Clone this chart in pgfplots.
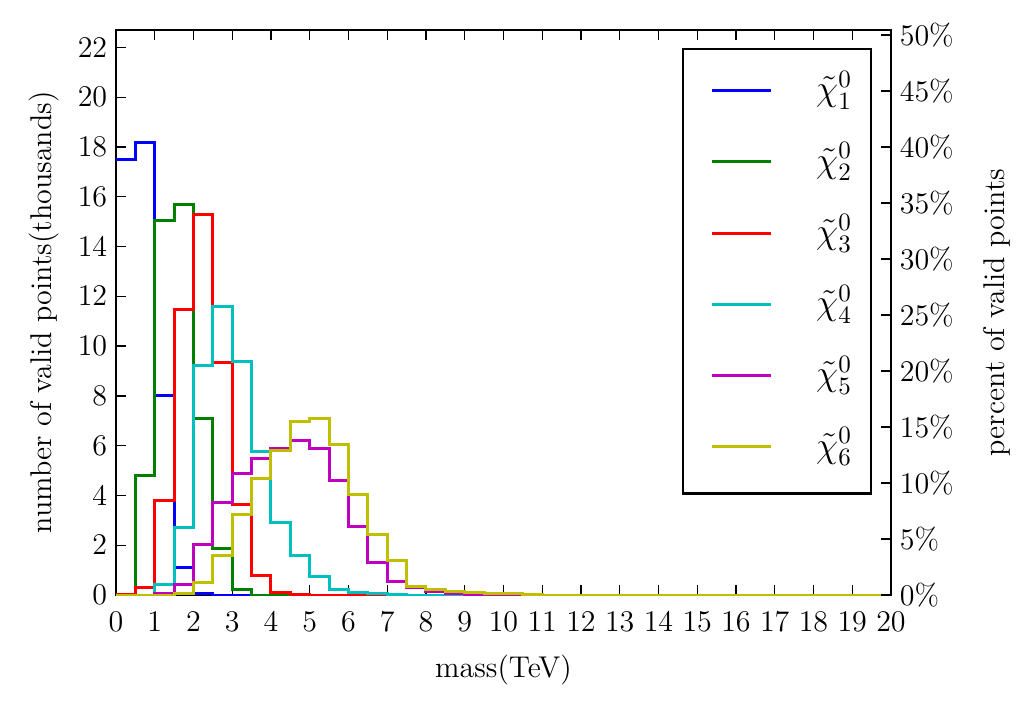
\documentclass[border=0pt]{standalone}
\usepackage{pgfplots}
\pgfplotsset{compat=1.18}
\definecolor{mb}{rgb}{0,0,1}
\definecolor{mg}{rgb}{0,0.5,0}
\definecolor{mr}{rgb}{1,0,0}
\definecolor{mc}{rgb}{0,0.75,0.75}
\definecolor{mm}{rgb}{0.75,0,0.75}
\definecolor{my}{rgb}{0.75,0.75,0}
\begin{document}
\begin{tikzpicture}
\begin{axis}[
  name=main,
  scale only axis, width=310pt, height=226pt,
  xmin=0, xmax=20, ymin=0, ymax=22.7,
  xtick={0,1,...,20}, ytick={0,2,...,22},
  ytick pos=left, xtick pos=both,
  tick align=inside, major tick length=4pt,
  tick style={black, line width=0.5pt},
  axis line style={line width=1pt},
  minor tick num=0,
  tick label style={font=\fontsize{12}{14}\selectfont},
  label style={font=\fontsize{12}{14}\selectfont},
  xticklabel style={yshift=-3.5pt},
  xlabel={mass(TeV)}, ylabel={number of valid points(thousands)},
  xlabel style={at={(axis description cs:0.5,-0.1327)}, anchor=center},
  ylabel style={at={(axis description cs:-0.093,0.5)}, anchor=center},
  legend style={at={(axis description cs:1,1)}, anchor=north east,
    xshift=-7.6pt, yshift=-7.2pt, draw=black, line width=1pt, fill=white,
    inner xsep=7.5pt, inner ysep=10.6pt, row sep=14.5pt, column sep=17.6pt,
    font=\fontsize{14.4}{17}\selectfont,
    nodes={inner sep=0pt, text height=10pt, text depth=4pt}},
  legend cell align=left,
  legend image code/.code={\path (0pt,0pt); \draw[#1, line width=1.2pt] (3.3pt,1.1pt) -- (26.9pt,1.1pt);},
  every axis plot/.append style={line width=1.2pt, const plot},
]
\addplot[mb] coordinates {(0,17.5)(0.5,18.2)(1,8.0)(1.5,1.1)(2,0.07)(2.5,0)(20,0)};
\addlegendentry{$\tilde{\chi}_1^0$}
\addplot[mg] coordinates {(0,0)(0.5,4.82)(1,15.06)(1.5,15.7)(2,7.1)(2.5,1.87)(3,0.24)(3.5,0)(20,0)};
\addlegendentry{$\tilde{\chi}_2^0$}
\addplot[mr] coordinates {(0,0.02)(0.5,0.32)(1,3.79)(1.5,11.47)(2,15.29)(2.5,9.34)(3,3.65)(3.5,0.8)(4,0.1)(4.5,0.01)(5,0)(20,0)};
\addlegendentry{$\tilde{\chi}_3^0$}
\addplot[mc] coordinates {(0,0)(1,0.44)(1.5,2.72)(2,9.21)(2.5,11.6)(3,9.37)(3.5,5.75)(4,2.92)(4.5,1.6)(5,0.76)(5.5,0.23)(6,0.1)(6.5,0.05)(7,0.01)(7.5,0)(20,0)};
\addlegendentry{$\tilde{\chi}_4^0$}
\addplot[mm] coordinates {(0,0)(1,0.05)(1.5,0.44)(2,2.04)(2.5,3.72)(3,4.89)(3.5,5.49)(4,5.89)(4.5,6.21)(5,5.89)(5.5,4.62)(6,2.74)(6.5,1.3)(7,0.55)(7.5,0.3)(8,0.15)(8.5,0.08)(9,0.04)(9.5,0.02)(10,0)(20,0)};
\addlegendentry{$\tilde{\chi}_5^0$}
\addplot[my] coordinates {(0,0)(1.5,0.07)(2,0.5)(2.5,1.58)(3,3.25)(3.5,4.68)(4,5.82)(4.5,6.97)(5,7.1)(5.5,6.06)(6,4.04)(6.5,2.44)(7,1.4)(7.5,0.36)(8,0.23)(8.5,0.15)(9,0.11)(9.5,0.07)(10,0.05)(10.5,0.02)(11,0)(20,0)};
\addlegendentry{$\tilde{\chi}_6^0$}
\end{axis}
\begin{axis}[
  scale only axis, width=310pt, height=226pt,
  xmin=0, xmax=20, ymin=0, ymax=50.444,
  hide x axis, axis y line*=right,
  tick align=inside, major tick length=4pt,
  tick style={black, line width=0.5pt},
  axis line style={-, line width=1pt},
  minor tick num=0,
  ytick={0,5,...,50},
  yticklabel={$\pgfmathprintnumber{\tick}\%$},
  tick label style={font=\fontsize{12}{14}\selectfont},
  label style={font=\fontsize{12}{14}\selectfont},
  ylabel={percent of valid points},
  ylabel style={at={(axis description cs:1.1365,0.5)}, anchor=center},
]
\addplot[draw=none] coordinates {(0,0)};
\end{axis}
\pgfresetboundingbox
\path[use as bounding box] ([xshift=-46.4pt,yshift=-46pt]main.south west) rectangle ([xshift=56pt,yshift=12pt]main.north east);
\end{tikzpicture}
\end{document}
